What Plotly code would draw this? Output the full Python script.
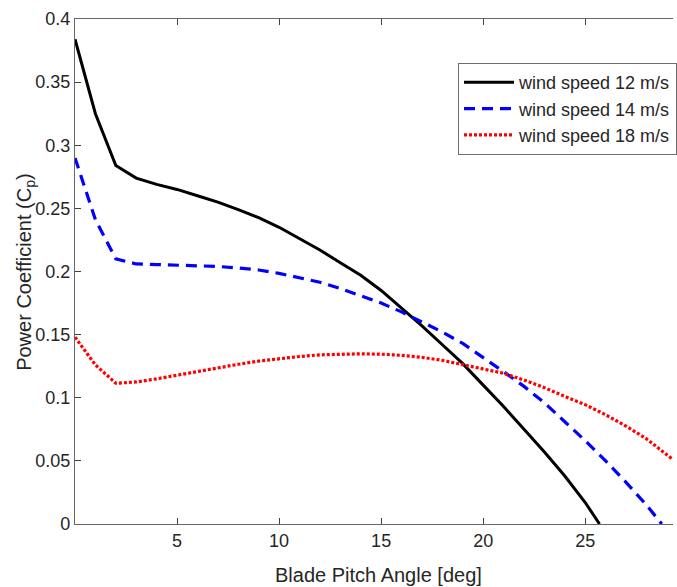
import plotly.graph_objects as go

# Blade pitch angle [deg]
pitch_12 = [0, 1, 2, 3, 4, 5, 6, 7, 8, 9, 10, 11, 12, 13, 14, 15, 16, 17, 18, 19, 20, 21, 22, 23, 24, 25, 25.7]
cp_12 = [0.384, 0.325, 0.284, 0.274, 0.269, 0.265, 0.260, 0.255, 0.249, 0.2426, 0.235, 0.226, 0.217, 0.207,
         0.197, 0.185, 0.171, 0.157, 0.142, 0.127, 0.110, 0.093, 0.075, 0.057, 0.038, 0.017, 0.0]

pitch_14 = [0, 1, 2, 3, 4, 5, 6, 7, 8, 9, 10, 11, 12, 13, 14, 15, 16, 17, 18, 19, 20, 21, 22, 23, 24, 25, 26, 27, 28, 28.75]
cp_14 = [0.290, 0.241, 0.210, 0.206, 0.2055, 0.205, 0.2047, 0.2040, 0.2028, 0.2012, 0.1985, 0.1950, 0.1915,
         0.1865, 0.1807, 0.1750, 0.168, 0.160, 0.152, 0.143, 0.132, 0.1206, 0.109, 0.096, 0.081, 0.066, 0.050,
         0.033, 0.015, 0.0]

pitch_18 = [0, 1, 2, 3, 4, 5, 6, 7, 8, 9, 10, 11, 12, 13, 14, 15, 16, 17, 18, 19, 20, 21, 22, 23, 24, 25, 26, 27, 28, 29, 29.3]
cp_18 = [0.148, 0.126, 0.1115, 0.1125, 0.115, 0.118, 0.121, 0.124, 0.1265, 0.1290, 0.131, 0.1327, 0.134, 0.1347,
         0.1348, 0.1345, 0.1336, 0.132, 0.1296, 0.1262, 0.1230, 0.1194, 0.114, 0.108, 0.101, 0.0945, 0.0865,
         0.0775, 0.0675, 0.055, 0.051]

x_ticks = [5, 10, 15, 20, 25]
y_ticks = [0, 0.05, 0.1, 0.15, 0.2, 0.25, 0.3, 0.35, 0.4]
y_tick_labels = ["0", "0.05", "0.1", "0.15", "0.2", "0.25", "0.3", "0.35", "0.4"]

FONT = "Liberation Sans, Arial, sans-serif"
TXT = "#262626"

fig = go.Figure()
fig.add_trace(go.Scatter(x=pitch_12, y=cp_12, mode="lines", name="wind speed 12 m/s",
                         line=dict(color="black", width=3)))
fig.add_trace(go.Scatter(x=pitch_14, y=cp_14, mode="lines", name="wind speed 14 m/s",
                         line=dict(color="#0000ff", width=3.2, dash="11px,7px")))
fig.add_trace(go.Scatter(x=pitch_18, y=cp_18, mode="lines", name="wind speed 18 m/s",
                         line=dict(color="#ff0000", width=3.2, dash="3px,2px")))

fig.update_layout(
    width=677, height=587,
    margin=dict(l=75, r=0, t=19, b=63),
    plot_bgcolor="white", paper_bgcolor="white",
    font=dict(family=FONT, size=18, color=TXT),
    showlegend=True,
    legend=dict(x=0.641, y=0.913, xanchor="left", yanchor="top",
                bgcolor="white", bordercolor="#6e6e6e", borderwidth=1,
                font=dict(size=18, color=TXT), itemwidth=50,
                tracegroupgap=0),
    xaxis=dict(range=[0, 29.3], tickvals=x_ticks, ticks="inside", ticklen=6,
               tickcolor="#404040", showline=True, linecolor="#666666", linewidth=1.2,
               mirror="ticks", showgrid=False, zeroline=False,
               tickfont=dict(size=18, color=TXT, family=FONT)),
    yaxis=dict(range=[0, 0.4], tickvals=y_ticks, ticktext=y_tick_labels, ticks="inside", ticklen=6,
               tickcolor="#404040", showline=True, linecolor="#666666", linewidth=1.2,
               mirror=False, showgrid=False, zeroline=False,
               tickfont=dict(size=18, color=TXT, family=FONT)),
)

fig.add_annotation(text="Blade Pitch Angle [deg]", xref="paper", yref="paper",
                   x=0.507, y=-0.101, xanchor="center", yanchor="middle", showarrow=False,
                   font=dict(size=20, color=TXT, family=FONT))
fig.add_annotation(text="Power Coefficient (C<sub>p</sub>)", xref="paper", yref="paper",
                   x=-0.083, y=0.5, xanchor="center", yanchor="middle", showarrow=False,
                   textangle=-90, font=dict(size=20, color=TXT, family=FONT))

fig.write_html("out.html", config={"displayModeBar": False},
               post_script="document.body.style.margin='0';document.body.style.overflow='hidden';")
